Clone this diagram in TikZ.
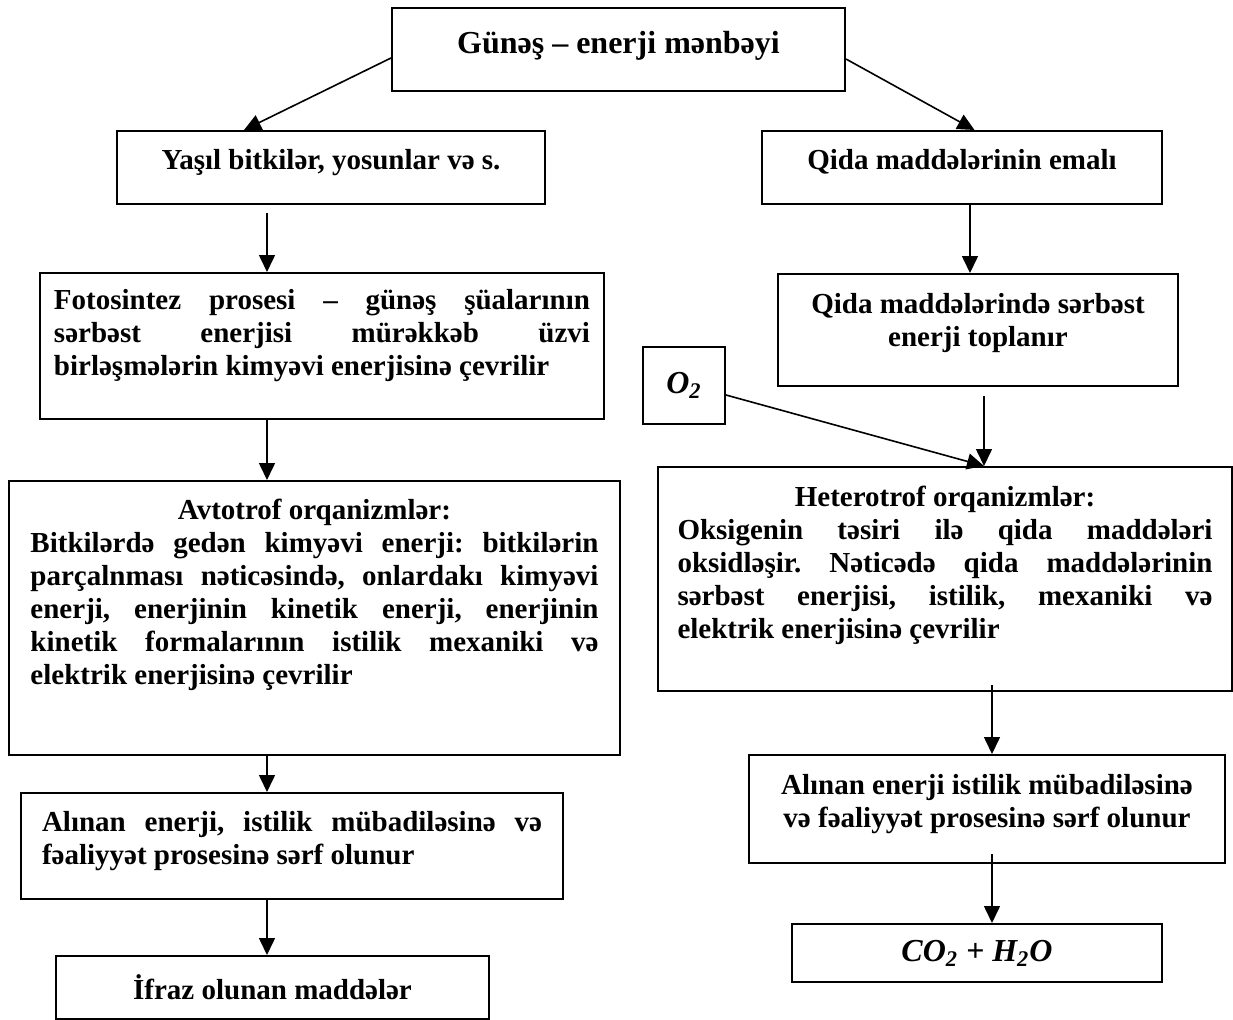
\documentclass[tikz,border=0pt]{standalone}
\usepackage{fontspec}
\setmainfont{Liberation Serif}
\usepackage{tikz}
\usetikzlibrary{arrows.meta}
\tikzset{
  block/.style={draw, line width=1pt, anchor=north west, inner ysep=0pt, inner xsep=5pt,
                font=\frenchspacing\bfseries\fontsize{14.5}{16.5}\selectfont},
  headblock/.style={block, font=\bfseries\fontsize{16}{19}\selectfont},
  chemblock/.style={block, inner sep=0pt, font=\bfseries\itshape\fontsize{16}{19}\selectfont},
  arr/.style={-{Triangle[length=8.5pt,width=8pt]}, line width=0.8pt},
}

\begin{document}
\begin{tikzpicture}[x=0.5pt, y=-0.5pt]
\useasboundingbox (0,0) rectangle (1233,1019);
%Nodes
\node[headblock, align=flush center, text width=216.5pt, text height=22.5pt, text depth=19pt] (gunes) at (391,7) {Günəş – enerji mənbəyi};
\node[block, align=flush center, text width=204pt, text height=19pt, text depth=17.5pt] (yasil) at (116,130) {Yaşıl bitkilər, yosunlar və s.};
\node[block, align=flush center, text width=190pt, text height=19pt, text depth=17.5pt] (qemal) at (761,130) {Qida maddələrinin emalı};
\node[block, align=justify, inner xsep=7pt, text width=268pt, text height=18pt, text depth=55pt] (foto) at (39,272)
  {Fotosintez prosesi – günəş şüalarının\linebreak sərbəst enerjisi mürəkkəb üzvi\linebreak birləşmələrin kimyəvi enerjisinə çevrilir};
\node[block, align=flush center, text width=190pt, text height=19.5pt, text depth=36.5pt] (qtop) at (777,273)
  {Qida maddələrində sərbəst\\ enerji toplanır};
\node[chemblock, minimum width=41pt, minimum height=38.5pt] (o2) at (642,346) {O\textsubscript{2}};
\node[block, align=justify, inner xsep=10.75pt, text width=284pt, text height=19pt, text depth=118pt] (avto) at (8,480)
  {{\centering Avtotrof orqanizmlər:\par}
   Bitkilərdə gedən kimyəvi enerji: bitkilərin\linebreak parçalnması nəticəsində, onlardakı kimyəvi\linebreak
   enerji, enerjinin kinetik enerji, enerjinin\linebreak kinetik formalarının istilik mexaniki və\linebreak
   elektrik enerjisinə çevrilir};
\node[block, align=justify, inner xsep=9.75pt, text width=267.5pt, text height=19.5pt, text depth=92.5pt] (hetero) at (657,466)
  {{\centering Heterotrof orqanizmlər:\par}
   Oksigenin təsiri ilə qida maddələri\linebreak oksidləşir. Nəticədə qida maddələrinin\linebreak
   sərbəst enerjisi, istilik, mexaniki və\linebreak elektrik enerjisinə çevrilir};
\node[block, align=flush center, text width=228pt, text height=19.5pt, text depth=34.5pt] (alinR) at (748,754)
  {Alınan enerji istilik mübadiləsinə\\ və fəaliyyət prosesinə sərf olunur};
\node[block, align=justify, inner xsep=10.5pt, text width=250pt, text height=19pt, text depth=34pt] (alinL) at (20,792)
  {Alınan enerji, istilik mübadiləsinə və\linebreak fəaliyyət prosesinə sərf olunur};
\node[chemblock, minimum width=185pt, minimum height=29pt] (co2) at (791,923) {CO\textsubscript{2} + H\textsubscript{2}O};
\node[block, inner sep=0pt, minimum width=216.5pt, minimum height=31.5pt] (ifraz) at (55,955) {İfraz olunan maddələr};

%Lines
\coordinate (lx) at (267,0);
\coordinate (rxa) at (970,0);
\coordinate (rxb) at (984,0);
\coordinate (rxc) at (992,0);
\draw[arr] ([yshift=-4.25pt]gunes.west) -- ([xshift=-43.5pt]yasil.north);
\draw[arr] ([yshift=-4.75pt]gunes.east) -- ([xshift=6.25pt]qemal.north);
\draw[arr, shorten <=4pt] (yasil.south -| lx) -- (foto.north -| lx);
\draw[arr] (foto.south -| lx) -- (avto.north -| lx);
\draw[arr] (avto.south -| lx) -- (alinL.north -| lx);
\draw[arr] (alinL.south -| lx) -- (ifraz.north -| lx);
\draw[arr] (qemal.south -| rxa) -- (qtop.north -| rxa);
\draw[arr, shorten <=4.5pt] (qtop.south -| rxb) -- (hetero.north -| rxb);
\draw[arr] ([yshift=-4.75pt]o2.east) -- (hetero.north -| rxb);
\draw[arr, shorten <=-3.5pt] (hetero.south -| rxc) -- (alinR.north -| rxc);
\draw[arr, shorten <=-5pt] (alinR.south -| rxc) -- (co2.north -| rxc);
\end{tikzpicture}
\end{document}
